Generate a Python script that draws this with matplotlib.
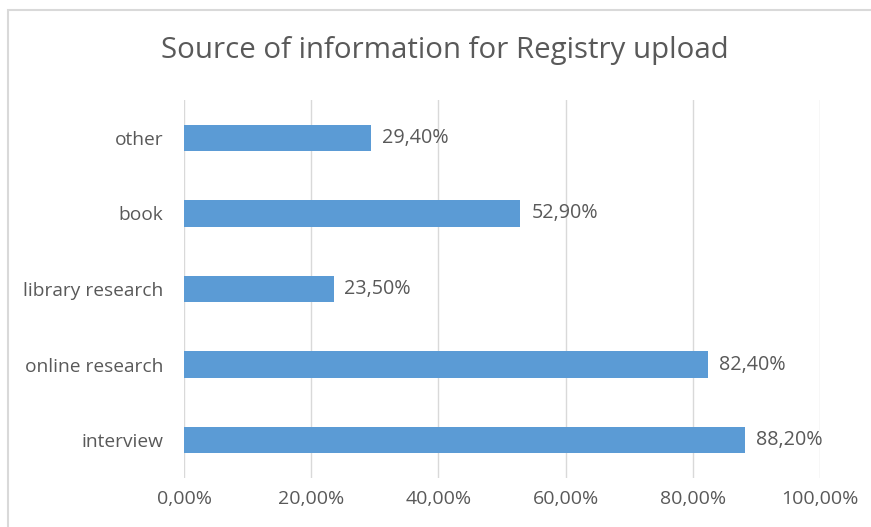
import matplotlib.pyplot as plt
from matplotlib.ticker import FuncFormatter
from matplotlib.patches import Rectangle

plt.rcParams["font.family"] = ["Open Sans", "DejaVu Sans"]

categories = ["interview", "online research", "library research", "book", "other"]
values = [88.2, 82.4, 23.5, 52.9, 29.4]
x_ticks = [0, 20, 40, 60, 80, 100]

bar_color = "#5B9BD5"
text_color = "#595959"
grid_color = "#D9D9D9"

fig = plt.figure(figsize=(8.71, 5.27), dpi=100)
ax = fig.add_axes([0.2113, 0.093, 0.7302, 0.717])

y = range(len(categories))
ax.barh(y, values, height=0.35, color=bar_color, zorder=3)

# data labels
for yi, v in zip(y, values):
    ax.text(v + 1.7, yi, "{:.2f}%".format(v).replace(".", ","),
            va="center", ha="left", fontsize=14.2, color=text_color)

ax.set_xlim(0, 100)
ax.set_ylim(-0.5, 4.5)
ax.set_xticks(x_ticks)
ax.xaxis.set_major_formatter(FuncFormatter(lambda v, p: "{:.2f}%".format(v).replace(".", ",")))
ax.set_yticks(list(y))
ax.set_yticklabels(categories)

ax.grid(axis="x", color=grid_color, linewidth=1, zorder=0)
for s in ax.spines.values():
    s.set_visible(False)
ax.tick_params(axis="both", length=0, labelcolor=text_color)
ax.tick_params(axis="y", pad=15, labelsize=13.8)
ax.tick_params(axis="x", pad=9, labelsize=14)

fig.text(0.511, 0.905, "Source of information for Registry upload",
         ha="center", va="center", fontsize=21.2, color=text_color)

# chart border (cropped at right and bottom)
fig.patches.append(Rectangle((8 / 871, -0.1), 1.2, (517 / 527) + 0.1,
                             transform=fig.transFigure, fill=False,
                             edgecolor="#D9D9D9", linewidth=1.5))

plt.savefig("out.png", dpi=100)
